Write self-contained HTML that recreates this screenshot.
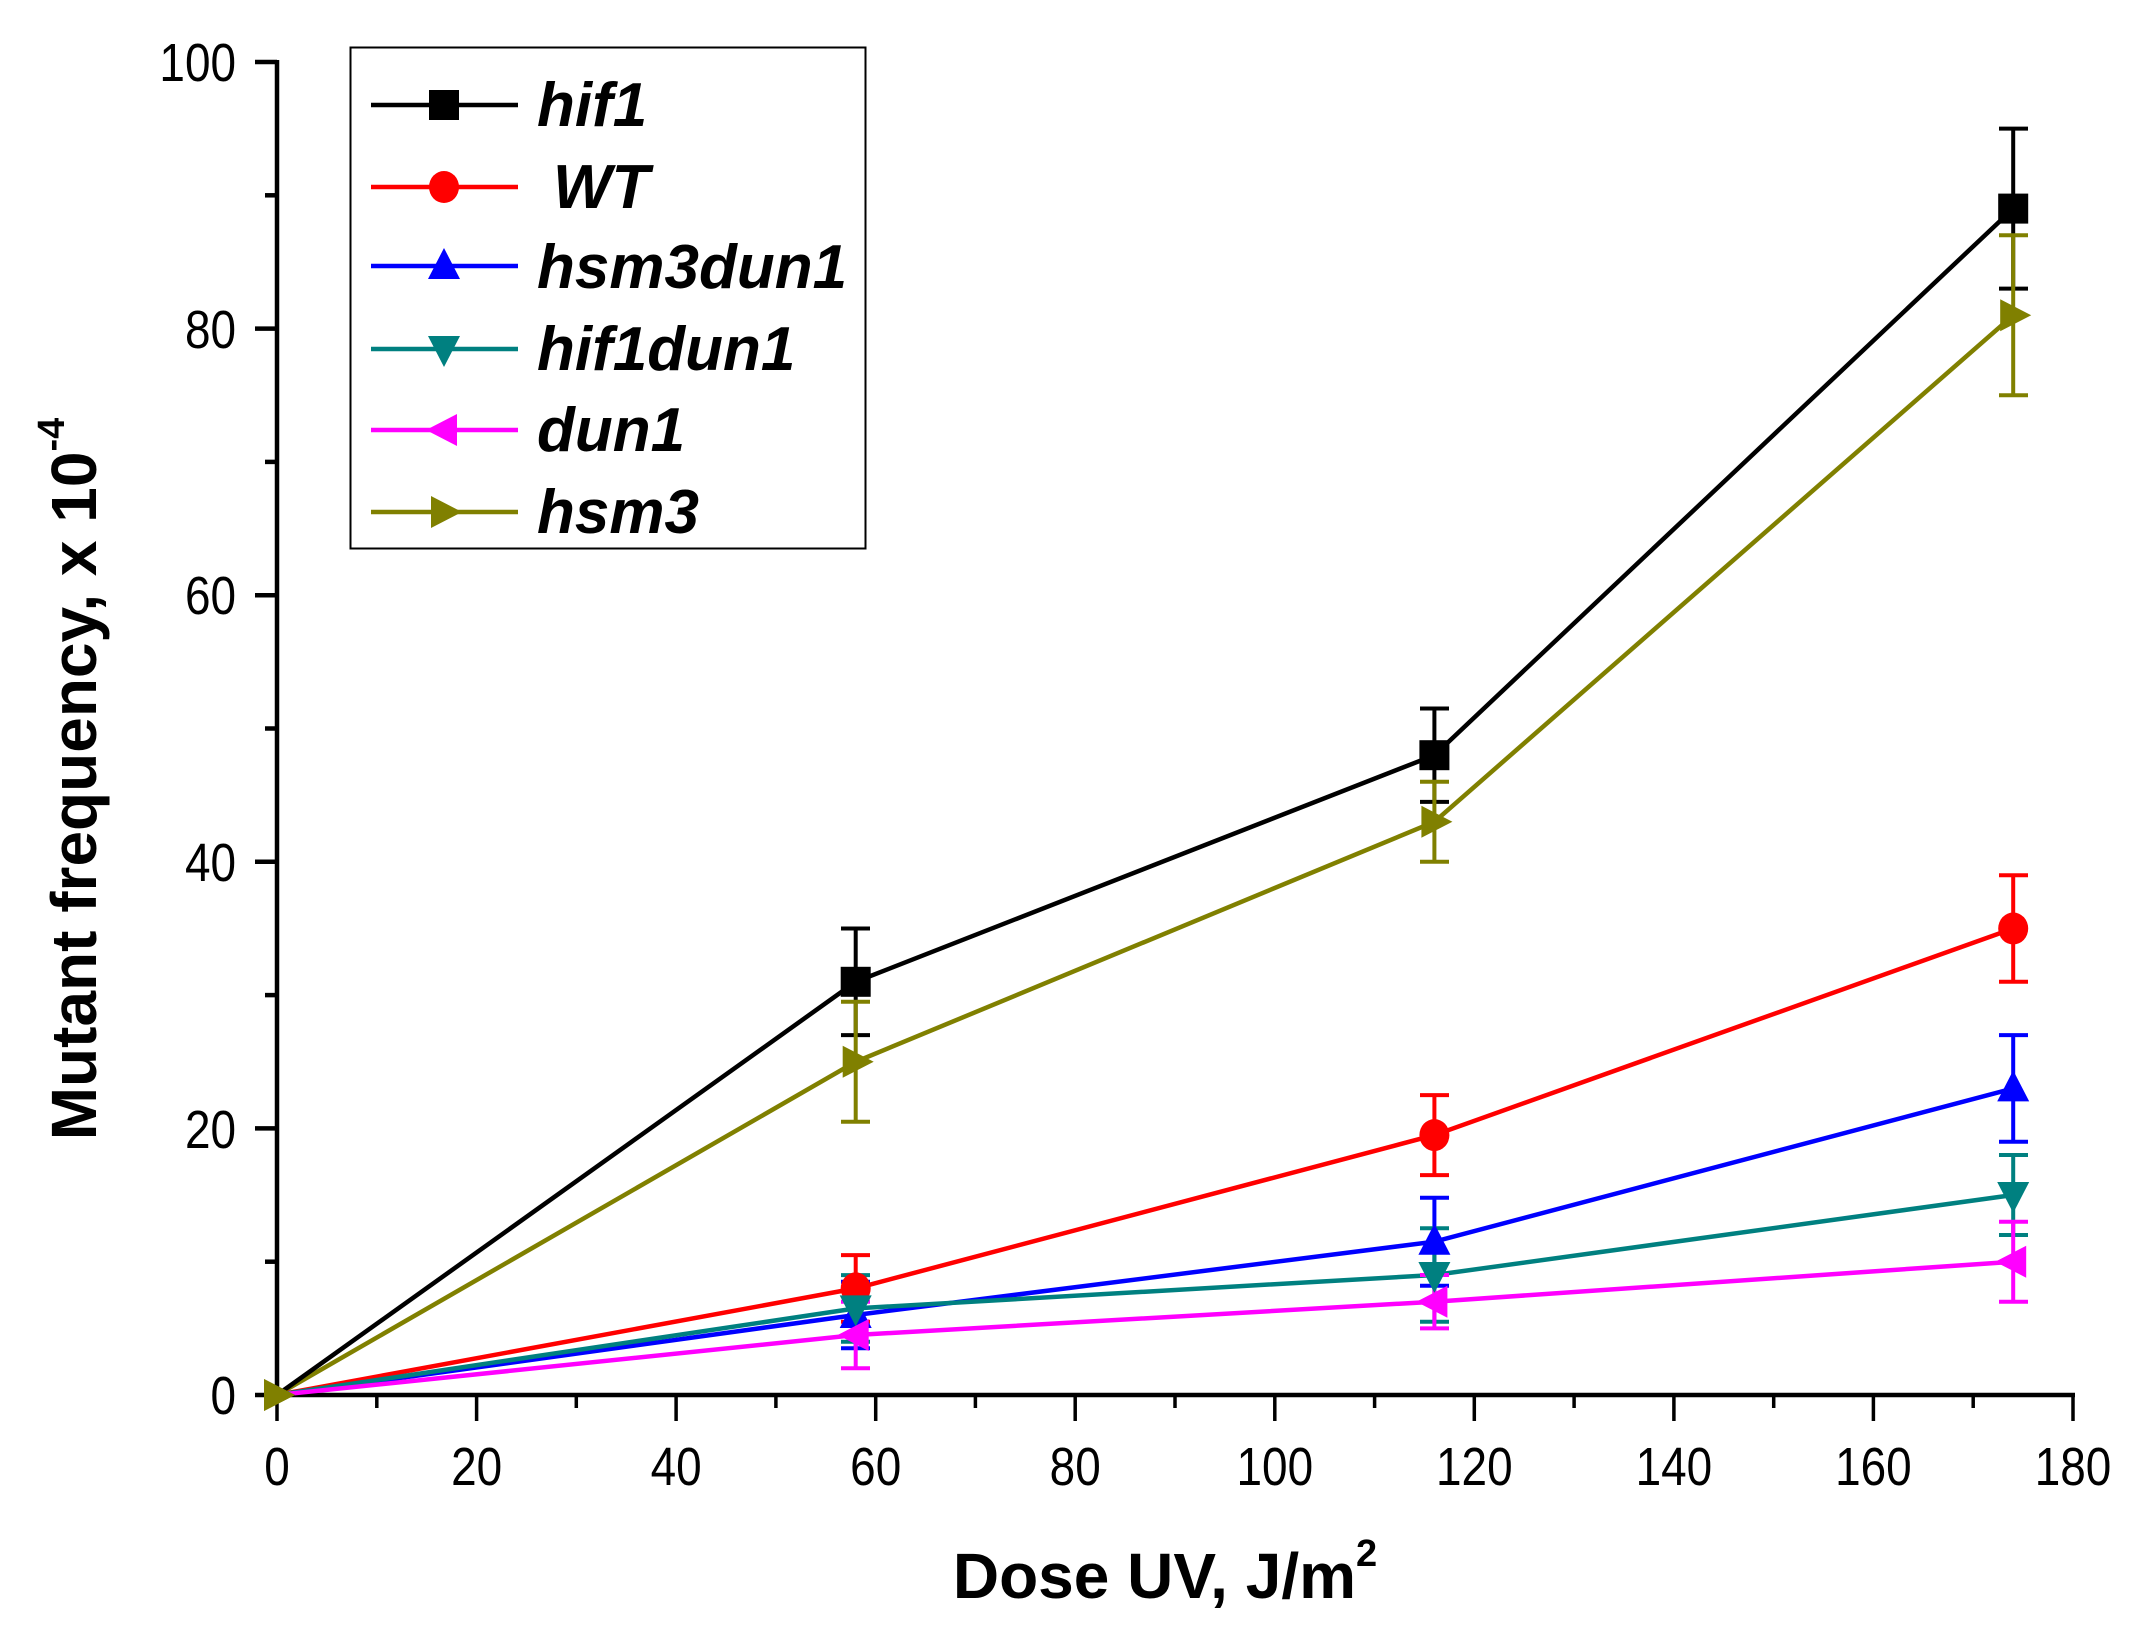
<!DOCTYPE html>
<html><head><meta charset="utf-8"><style>
html,body{margin:0;padding:0;background:#fff;}
svg{display:block;}
text{font-family:"Liberation Sans",Arial,sans-serif;}
</style></head><body>
<svg width="2132" height="1632" viewBox="0 0 2132 1632" xmlns="http://www.w3.org/2000/svg">
<rect width="2132" height="1632" fill="#fff"/>
<!-- axes -->
<g stroke="#000" stroke-width="4.5" fill="none">
<line x1="277" y1="60" x2="277" y2="1397"/>
<line x1="275" y1="1395" x2="2075" y2="1395"/>
<line x1="255" y1="1395" x2="277" y2="1395"/>
<line x1="255" y1="1128.4" x2="277" y2="1128.4"/>
<line x1="255" y1="861.8" x2="277" y2="861.8"/>
<line x1="255" y1="595.2" x2="277" y2="595.2"/>
<line x1="255" y1="328.6" x2="277" y2="328.6"/>
<line x1="255" y1="62" x2="277" y2="62"/>
<line x1="265" y1="1261.7" x2="277" y2="1261.7"/>
<line x1="265" y1="995.1" x2="277" y2="995.1"/>
<line x1="265" y1="728.5" x2="277" y2="728.5"/>
<line x1="265" y1="461.9" x2="277" y2="461.9"/>
<line x1="265" y1="195.3" x2="277" y2="195.3"/>
</g>
<g stroke="#000" stroke-width="3.5">
<line x1="277" y1="1395" x2="277" y2="1421"/>
<line x1="376.8" y1="1395" x2="376.8" y2="1408"/>
<line x1="476.6" y1="1395" x2="476.6" y2="1421"/>
<line x1="576.3" y1="1395" x2="576.3" y2="1408"/>
<line x1="676.1" y1="1395" x2="676.1" y2="1421"/>
<line x1="775.9" y1="1395" x2="775.9" y2="1408"/>
<line x1="875.7" y1="1395" x2="875.7" y2="1421"/>
<line x1="975.4" y1="1395" x2="975.4" y2="1408"/>
<line x1="1075.2" y1="1395" x2="1075.2" y2="1421"/>
<line x1="1175" y1="1395" x2="1175" y2="1408"/>
<line x1="1274.8" y1="1395" x2="1274.8" y2="1421"/>
<line x1="1374.6" y1="1395" x2="1374.6" y2="1408"/>
<line x1="1474.3" y1="1395" x2="1474.3" y2="1421"/>
<line x1="1574.1" y1="1395" x2="1574.1" y2="1408"/>
<line x1="1673.9" y1="1395" x2="1673.9" y2="1421"/>
<line x1="1773.7" y1="1395" x2="1773.7" y2="1408"/>
<line x1="1873.4" y1="1395" x2="1873.4" y2="1421"/>
<line x1="1973.2" y1="1395" x2="1973.2" y2="1408"/>
<line x1="2073" y1="1395" x2="2073" y2="1421"/>
</g>
<!-- tick labels -->
<g font-size="54" fill="#000" text-anchor="end">
<text transform="translate(236,1414) scale(0.85,1)">0</text>
<text transform="translate(236,1148) scale(0.85,1)">20</text>
<text transform="translate(236,881) scale(0.85,1)">40</text>
<text transform="translate(236,614) scale(0.85,1)">60</text>
<text transform="translate(236,348) scale(0.85,1)">80</text>
<text transform="translate(236,81) scale(0.85,1)">100</text>
</g>
<g font-size="54" fill="#000" text-anchor="middle">
<text transform="translate(277,1485) scale(0.85,1)">0</text>
<text transform="translate(476.6,1485) scale(0.85,1)">20</text>
<text transform="translate(676.1,1485) scale(0.85,1)">40</text>
<text transform="translate(875.7,1485) scale(0.85,1)">60</text>
<text transform="translate(1075.2,1485) scale(0.85,1)">80</text>
<text transform="translate(1274.8,1485) scale(0.85,1)">100</text>
<text transform="translate(1474.3,1485) scale(0.85,1)">120</text>
<text transform="translate(1673.9,1485) scale(0.85,1)">140</text>
<text transform="translate(1873.4,1485) scale(0.85,1)">160</text>
<text transform="translate(2073,1485) scale(0.85,1)">180</text>
</g>
<!-- axis titles -->
<text x="1165" y="1598" font-size="64" font-weight="bold" text-anchor="middle">Dose UV, J/m<tspan font-size="38" dy="-32">2</tspan></text>
<text transform="translate(96,779) rotate(-90)" font-size="64" font-weight="bold" text-anchor="middle">Mutant frequency, x 10<tspan font-size="38" dy="-32">-4</tspan></text>

<!-- series lines -->
<g fill="none" stroke-width="4.5">
<polyline stroke="#808000" points="277,1395 855.7,1061.8 1434.4,821.8 2013.2,315.3"/>
<polyline stroke="#000" points="277,1395 855.7,981.8 1434.4,755.2 2013.2,208.6"/>
<polyline stroke="#ff0000" points="277,1395 855.7,1288.4 1434.4,1135.1 2013.2,928.5"/>
<polyline stroke="#0000ff" points="277,1395 855.7,1315 1434.4,1241.7 2013.2,1088.4"/>
<polyline stroke="#008080" points="277,1395 855.7,1308.4 1434.4,1275 2013.2,1195"/>
<polyline stroke="#ff00ff" points="277,1395 855.7,1335 1434.4,1301.7 2013.2,1261.7"/>
</g>
<!-- error bars -->
<g stroke-width="4" fill="none">
<path stroke="#000" d="M855.7,928.5V1035.1M841,928.5h29M841,1035.1h29 M1434.4,708.5V801.9M1420,708.5h29M1420,801.9h29 M2013.2,128.6V288.6M1999,128.6h29M1999,288.6h29"/>
<path stroke="#808000" d="M855.7,1001.8V1121.8M841,1001.8h29M841,1121.8h29 M1434.4,781.8V861.8M1420,781.8h29M1420,861.8h29 M2013.2,235.3V395.3M1999,235.3h29M1999,395.3h29"/>
<path stroke="#ff0000" d="M855.7,1255.1V1321.7M841,1255.1h29M841,1321.7h29 M1434.4,1095.1V1175.1M1420,1095.1h29M1420,1175.1h29 M2013.2,875.2V981.8M1999,875.2h29M1999,981.8h29"/>
<path stroke="#0000ff" d="M855.7,1281.7V1348.3M841,1281.7h29M841,1348.3h29 M1434.4,1197.7V1285.7M1420,1197.7h29M1420,1285.7h29 M2013.2,1035.1V1141.7M1999,1035.1h29M1999,1141.7h29"/>
<path stroke="#008080" d="M855.7,1275.1V1341.7M841,1275.1h29M841,1341.7h29 M1434.4,1228.3V1321.7M1420,1228.3h29M1420,1321.7h29 M2013.2,1155V1235M1999,1155h29M1999,1235h29"/>
<path stroke="#ff00ff" d="M855.7,1301.7V1368.3M841,1301.7h29M841,1368.3h29 M1434.4,1275V1328.4M1420,1275h29M1420,1328.4h29 M2013.2,1221.7V1301.7M1999,1221.7h29M1999,1301.7h29"/>
</g>
<!-- markers -->
<defs>
<rect id="sq" x="-15" y="-15" width="30" height="30" fill="#000"/>
<ellipse id="ci" rx="15" ry="16" fill="#ff0000"/>
<polygon id="tu" points="0,-18 16,13 -16,13" fill="#0000ff"/>
<polygon id="td" points="0,18 16,-13 -16,-13" fill="#008080"/>
<polygon id="tl" points="-18,0 13,-16 13,16" fill="#ff00ff"/>
<polygon id="tr" points="18,0 -13,-16 -13,16" fill="#808000"/>
</defs>
<use href="#tr" x="277" y="1395"/><use href="#tr" x="855.7" y="1061.8"/><use href="#tr" x="1434.4" y="821.8"/><use href="#tr" x="2013.2" y="315.3"/>
<use href="#sq" x="855.7" y="981.8"/><use href="#sq" x="1434.4" y="755.2"/><use href="#sq" x="2013.2" y="208.6"/>
<use href="#ci" x="855.7" y="1288.4"/><use href="#ci" x="1434.4" y="1135.1"/><use href="#ci" x="2013.2" y="928.5"/>
<use href="#tu" x="855.7" y="1315"/><use href="#tu" x="1434.4" y="1241.7"/><use href="#tu" x="2013.2" y="1088.4"/>
<use href="#td" x="855.7" y="1308.4"/><use href="#td" x="1434.4" y="1275"/><use href="#td" x="2013.2" y="1195"/>
<use href="#tl" x="855.7" y="1335"/><use href="#tl" x="1434.4" y="1301.7"/><use href="#tl" x="2013.2" y="1261.7"/>
<use href="#tr" x="277" y="1395"/>

<!-- legend -->
<rect x="350.5" y="47.5" width="515" height="501" fill="#fff" stroke="#000" stroke-width="2"/>
<g stroke-width="4.5">
<line x1="371" y1="105" x2="518" y2="105" stroke="#000"/>
<line x1="371" y1="187" x2="518" y2="187" stroke="#ff0000"/>
<line x1="371" y1="266" x2="518" y2="266" stroke="#0000ff"/>
<line x1="371" y1="349" x2="518" y2="349" stroke="#008080"/>
<line x1="371" y1="430" x2="518" y2="430" stroke="#ff00ff"/>
<line x1="371" y1="512" x2="518" y2="512" stroke="#808000"/>
</g>
<use href="#sq" x="444" y="105"/><use href="#ci" x="444" y="187"/><use href="#tu" x="444" y="266"/>
<use href="#td" x="444" y="349"/><use href="#tl" x="444" y="430"/><use href="#tr" x="444" y="512"/>
<g font-size="62" font-weight="bold" font-style="italic" fill="#000">
<text x="537" y="126">hif1</text>
<text x="553" y="208">WT</text>
<text x="537" y="288">hsm3dun1</text>
<text x="537" y="370">hif1dun1</text>
<text x="537" y="451">dun1</text>
<text x="537" y="533">hsm3</text>
</g>
</svg>
</body></html>
